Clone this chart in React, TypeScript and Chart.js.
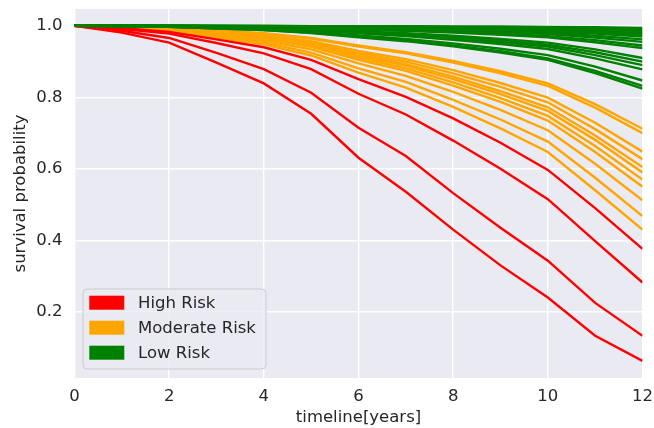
import React, { useEffect, useRef } from "react";
import { Chart, registerables } from "chart.js";

Chart.register(...registerables);

// time points (years)
const timeline = [0, 1, 2, 3, 4, 5, 6, 7, 8, 9, 10, 11, 12];

// survival curves per patient, grouped by risk
const highRisk = [
  [1, 0.993, 0.983, 0.962, 0.94, 0.905, 0.851, 0.801, 0.741, 0.673, 0.597, 0.49, 0.376],
  [1, 0.991, 0.978, 0.952, 0.923, 0.879, 0.81, 0.752, 0.679, 0.6, 0.515, 0.398, 0.282],
  [1, 0.986, 0.966, 0.924, 0.879, 0.813, 0.715, 0.636, 0.532, 0.435, 0.343, 0.225, 0.133],
  [1, 0.981, 0.953, 0.897, 0.839, 0.754, 0.631, 0.536, 0.43, 0.33, 0.24, 0.133, 0.063],
];

const moderateRisk = [
  [1, 0.998, 0.994, 0.987, 0.979, 0.966, 0.945, 0.926, 0.902, 0.873, 0.839, 0.781, 0.712],
  [1, 0.998, 0.994, 0.986, 0.978, 0.964, 0.942, 0.923, 0.897, 0.867, 0.832, 0.771, 0.7],
  [1, 0.997, 0.992, 0.983, 0.973, 0.957, 0.93, 0.907, 0.876, 0.84, 0.799, 0.729, 0.648],
  [1, 0.997, 0.992, 0.982, 0.971, 0.953, 0.925, 0.9, 0.867, 0.829, 0.786, 0.711, 0.627],
  [1, 0.997, 0.991, 0.98, 0.969, 0.95, 0.92, 0.893, 0.858, 0.817, 0.772, 0.693, 0.605],
  [1, 0.996, 0.991, 0.979, 0.967, 0.948, 0.916, 0.888, 0.851, 0.809, 0.762, 0.681, 0.59],
  [1, 0.996, 0.99, 0.978, 0.965, 0.944, 0.911, 0.881, 0.842, 0.798, 0.748, 0.664, 0.57],
  [1, 0.996, 0.99, 0.977, 0.963, 0.941, 0.905, 0.874, 0.833, 0.787, 0.735, 0.647, 0.55],
  [1, 0.995, 0.988, 0.974, 0.958, 0.934, 0.895, 0.86, 0.815, 0.765, 0.708, 0.614, 0.512],
  [1, 0.995, 0.987, 0.971, 0.953, 0.925, 0.881, 0.843, 0.793, 0.738, 0.676, 0.575, 0.468],
  [1, 0.994, 0.985, 0.967, 0.948, 0.917, 0.869, 0.827, 0.773, 0.713, 0.647, 0.54, 0.43],
];

const lowRisk = [
  [1, 1, 1, 1, 1, 0.999, 0.999, 0.999, 0.998, 0.998, 0.997, 0.996, 0.994],
  [1, 1, 1, 1, 0.999, 0.999, 0.998, 0.998, 0.997, 0.996, 0.995, 0.993, 0.99],
  [1, 1, 1, 0.999, 0.999, 0.998, 0.997, 0.997, 0.995, 0.994, 0.992, 0.989, 0.985],
  [1, 1, 1, 0.999, 0.999, 0.998, 0.997, 0.995, 0.994, 0.992, 0.99, 0.985, 0.98],
  [1, 1, 1, 0.999, 0.998, 0.997, 0.996, 0.994, 0.992, 0.99, 0.987, 0.982, 0.975],
  [1, 1, 0.999, 0.999, 0.998, 0.997, 0.995, 0.993, 0.991, 0.988, 0.984, 0.978, 0.97],
  [1, 1, 0.999, 0.998, 0.998, 0.996, 0.994, 0.991, 0.988, 0.985, 0.98, 0.972, 0.962],
  [1, 1, 0.999, 0.998, 0.997, 0.995, 0.992, 0.99, 0.986, 0.982, 0.977, 0.967, 0.955],
  [1, 1, 0.999, 0.998, 0.996, 0.994, 0.991, 0.987, 0.983, 0.978, 0.971, 0.96, 0.945],
  [1, 1, 0.999, 0.997, 0.996, 0.993, 0.989, 0.986, 0.981, 0.975, 0.968, 0.954, 0.938],
  [1, 0.999, 0.998, 0.996, 0.994, 0.99, 0.984, 0.979, 0.972, 0.963, 0.953, 0.934, 0.91],
  [1, 0.999, 0.998, 0.996, 0.993, 0.989, 0.983, 0.977, 0.968, 0.959, 0.947, 0.926, 0.9],
  [1, 0.999, 0.998, 0.995, 0.993, 0.988, 0.981, 0.974, 0.965, 0.954, 0.942, 0.918, 0.89],
  [1, 0.999, 0.998, 0.995, 0.992, 0.987, 0.979, 0.971, 0.961, 0.949, 0.935, 0.909, 0.878],
  [1, 0.999, 0.997, 0.993, 0.99, 0.983, 0.973, 0.963, 0.951, 0.936, 0.918, 0.886, 0.847],
  [1, 0.999, 0.997, 0.993, 0.988, 0.981, 0.97, 0.959, 0.945, 0.929, 0.909, 0.874, 0.832],
  [1, 0.999, 0.997, 0.992, 0.988, 0.98, 0.968, 0.957, 0.943, 0.925, 0.905, 0.868, 0.824],
];

const xTicks = [0, 2, 4, 6, 8, 10, 12];
const yTicks = [0.2, 0.4, 0.6, 0.8, 1.0];

const groupLabels = ["High Risk", "Moderate Risk", "Low Risk"];
const groupColors = ["#ff0000", "#ffa500", "#008000"];

const TEXT = "#262626";
const FONT = "'DejaVu Sans', sans-serif";
const FS = 16.5;

export default function App() {
  const ref = useRef<HTMLCanvasElement>(null);

  useEffect(() => {
    if (!ref.current) return;
    const toPts = (vals: number[]) => vals.map((v, i) => ({ x: timeline[i], y: v }));
    const mk = (curves: number[][], color: string) =>
      curves.map((c) => ({
        data: toPts(c),
        borderColor: color,
        backgroundColor: color,
        borderWidth: 2.4,
        pointRadius: 0,
        fill: false,
        tension: 0,
      }));
    // first dataset is drawn on top in Chart.js
    const datasets = [
      ...mk(lowRisk, groupColors[2]),
      ...mk(highRisk, groupColors[0]),
      ...mk(moderateRisk, groupColors[1]),
    ];

    const bgPlugin = {
      id: "axesBg",
      beforeDraw(chart: any) {
        const { ctx, chartArea: a } = chart;
        ctx.save();
        ctx.fillStyle = "#EAEAF2";
        ctx.fillRect(a.left, a.top, a.right - a.left, a.bottom - a.top);
        ctx.restore();
      },
    };

    const legendPlugin = {
      id: "riskLegend",
      afterDraw(chart: any) {
        const { ctx, chartArea: a } = chart;
        const w = 183,
          h = 80;
        const bx = a.left + 8.5;
        const by = a.bottom - 9 - h;
        ctx.save();
        ctx.beginPath();
        (ctx as any).roundRect(bx, by, w, h, 4);
        ctx.fillStyle = "rgba(234,234,242,0.8)";
        ctx.fill();
        ctx.strokeStyle = "#cccccc";
        ctx.lineWidth = 1;
        ctx.stroke();
        ctx.font = `${FS}px ${FONT}`;
        ctx.textBaseline = "middle";
        ctx.textAlign = "left";
        groupLabels.forEach((lab, i) => {
          const cy = by + 13.7 + i * 25;
          ctx.fillStyle = groupColors[i];
          ctx.fillRect(bx + 6.3, cy - 7, 35, 14);
          ctx.fillStyle = TEXT;
          ctx.fillText(lab, bx + 55, cy + 1);
        });
        ctx.restore();
      },
    };

    const chart = new Chart(ref.current, {
      type: "line",
      data: { datasets },
      plugins: [bgPlugin, legendPlugin],
      options: {
        animation: false,
        responsive: false,
        maintainAspectRatio: false,
        layout: { padding: { top: 9, right: 11.5, left: 0, bottom: 0 } },
        plugins: { legend: { display: false }, tooltip: { enabled: false } },
        scales: {
          x: {
            type: "linear",
            min: 0,
            max: 12,
            afterBuildTicks: (s: any) => {
              s.ticks = xTicks.map((v) => ({ value: v }));
            },
            afterFit: (s: any) => {
              s.height = 50;
              s.paddingLeft = 0;
              s.paddingRight = 0;
            },
            ticks: {
              autoSkip: false,
              maxRotation: 0,
              padding: 9,
              color: TEXT,
              font: { family: FONT, size: FS },
              callback: (v: any) => String(v),
            },
            grid: { color: "#ffffff", lineWidth: 1.4, drawTicks: false },
            border: { display: false },
            title: {
              display: true,
              text: "timeline[years]",
              color: TEXT,
              font: { family: FONT, size: FS },
              padding: { top: 0, bottom: 0 },
            },
          },
          y: {
            type: "linear",
            min: 0.015,
            max: 1.047,
            afterBuildTicks: (s: any) => {
              s.ticks = yTicks.map((v) => ({ value: v }));
            },
            afterFit: (s: any) => {
              s.width = 74.5;
              s.paddingTop = 0;
              s.paddingBottom = 0;
            },
            ticks: {
              padding: 12,
              color: TEXT,
              font: { family: FONT, size: FS },
              callback: (v: any) => Number(v).toFixed(1),
            },
            grid: { color: "#ffffff", lineWidth: 1.4, drawTicks: false },
            border: { display: false },
            title: {
              display: true,
              text: "survival probability",
              color: TEXT,
              font: { family: FONT, size: FS },
              padding: { top: 11, bottom: 0 },
            },
          },
        },
      },
    });
    return () => chart.destroy();
  }, []);

  return (
    <div style={{ position: "absolute", left: 0, top: 0, width: 654, height: 428, background: "#ffffff" }}>
      <canvas ref={ref} width={654} height={428} style={{ display: "block", width: 654, height: 428 }} />
    </div>
  );
}
